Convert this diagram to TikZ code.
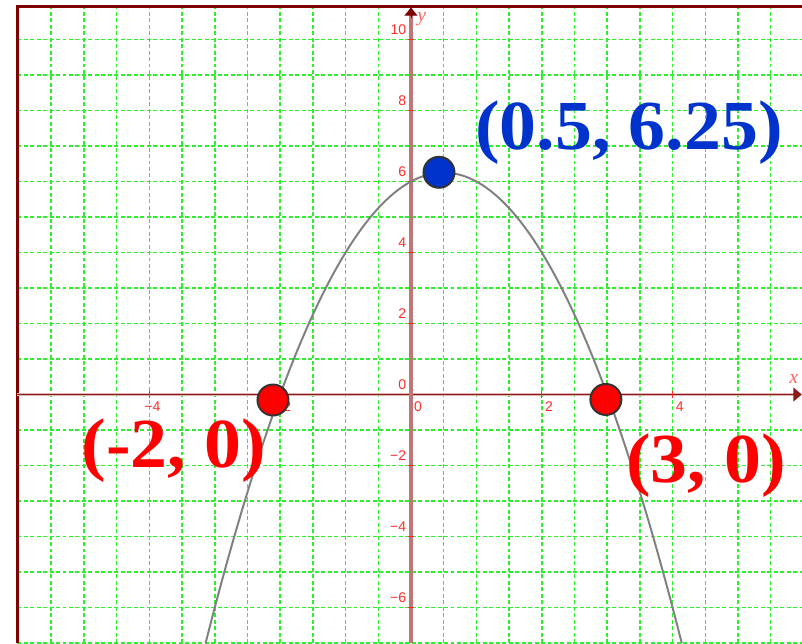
\documentclass[tikz,border=0pt]{standalone}
\usepackage{fontspec}
\setmainfont{Liberation Serif}
\newfontfamily\tickfont{Liberation Sans}
\usepackage{tikz}
\usetikzlibrary{arrows.meta}
\definecolor{axisred}{RGB}{128,0,0}
\definecolor{axispink}{RGB}{190,118,118}
\definecolor{gridgreen}{RGB}{45,240,45}
\definecolor{tickred}{RGB}{255,45,45}
\definecolor{ptblue}{RGB}{0,51,204}
\definecolor{curvegray}{RGB}{128,128,128}

\begin{document}
\begin{tikzpicture}[
    x=1.635cm, y=0.8875cm,
    gridline/.style={gridgreen, line width=1.1pt, dash pattern=on 2.8pt off 1.8pt},
    frameline/.style={axisred, line width=2.2pt},
    ticklbl/.style={font=\tickfont\fontsize{10}{12}\selectfont, text=tickred, inner sep=0pt},
    axislbl/.style={font=\fontsize{14}{16}\selectfont\itshape, text=tickred!75, inner sep=0pt, anchor=base west},
    ptdot/.style={circle, draw=black!80, line width=1.4pt, fill=#1,
      minimum size=0.775cm, inner sep=0pt},
    ptlbl/.style={font=\fontsize{50}{60}\selectfont\bfseries, text=#1,
      inner sep=0pt, anchor=base, xscale=1.05}
  ]
  \useasboundingbox (-6.284,-7) rectangle (5.979,11.113);

  %% ===== grid =====
  \foreach \gx in {-5.5,-5,...,5.5}
    \draw[gridline] (\gx,-7) -- (\gx,10.92);
  \foreach \gy in {-7,...,10}
    \draw[gridline] (-6.02,\gy) -- (5.979,\gy);

  %% ===== frame =====
  \draw[frameline] (-6.02,-7) -- (-6.02,10.92) -- (5.979,10.92);

  %% ===== axes =====
  \draw[axispink!55, line width=2.2pt] (-6.02,0) -- (5.85,0);
  \draw[axisred!90, line width=1pt, -{Triangle[length=6pt, width=10pt]}] (-6.02,0) -- (5.975,0);
  \draw[axispink, line width=2.4pt] (0,-7) -- (0,10.7);
  \draw[axisred, line width=0.5pt, -{Triangle[length=5.7pt, width=9.2pt]}] (0,10.6) -- (0,10.9);

  %% ticks
  \foreach \t in {-4,-2,2,4}
    \draw[tickred, line width=0.8pt] (\t,0) ++(0pt,-2.2pt) -- ++(0pt,4.4pt);
  \foreach \t in {-6,-4,-2,2,4,6,8,10}
    \draw[tickred, line width=0.8pt] (0,\t) ++(-2.2pt,0pt) -- ++(4.4pt,0pt);

  %% tick labels
  \foreach \t/\s in {-4/\llap{−}4, 0/0, 2/2, 4/4}
    \node[ticklbl, anchor=north west] (xl\t) at ([xshift=2.1pt, yshift=-5pt]\t,0) {\s};
  \foreach \t/\s in {-6/−6, -4/−4, -2/−2, 0/0, 2/2, 4/4, 6/6, 8/8, 10/10}
    \node[ticklbl, anchor=base east] (yl\t) at ([xshift=-3.2pt, yshift=3.3pt]0,\t) {\s};

  \node[axislbl] (xname) at (5.78,0.324) {x};
  \node[axislbl] (yname) at (0.092,10.52) {y};

  %% ===== parabola =====
  \draw[curvegray, line width=1.4pt] plot[domain=-3.14:4.14, samples=120]
    (\x, {-(\x)^2+\x+6});

  %% ===== points =====
  \node[ticklbl, anchor=north west] (xl-2) at ([xshift=2.1pt, yshift=-5pt]-2,0) {\llap{−}2};
  \node[ptdot=red] (rootA) at (-2.11,-0.155) {};
  \node[ptdot=red] (rootB) at (2.98,-0.14) {};
  \node[ptdot=ptblue] (vertex) at (0.428,6.26) {};

  \node[ptlbl=ptblue] (lblvertex) at (3.333,6.915) {(0.5, 6.25)};
  \node[ptlbl=red] (lblrootA) at (-3.624,-2.042) {(-2, 0)};
  \node[ptlbl=red] (lblrootB) at (4.511,-2.465) {(3, 0)};
\end{tikzpicture}
\end{document}
